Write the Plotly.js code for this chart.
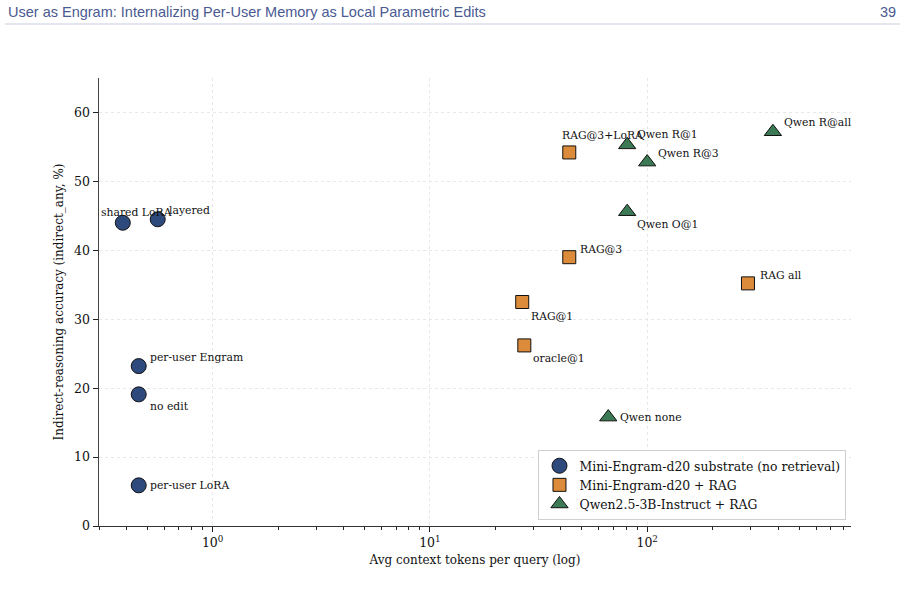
<!DOCTYPE html>
<html><head><meta charset="utf-8">
<script src="https://cdn.plot.ly/plotly-3.0.1.min.js"></script>
<style>body{margin:0;background:#fff}#c{width:906px;height:595px}</style>
</head><body><div id="c"></div>
<script>
// Data
const engramNames = ["shared LoRA","layered","per-user Engram","no edit","per-user LoRA"];
const engramX = [0.386, 0.559, 0.457, 0.457, 0.457];
const engramY = [44.0, 44.5, 23.2, 19.1, 5.9];

const ragNames = ["RAG@3+LoRA","RAG@3","RAG@1","oracle@1","RAG all"];
const ragX = [43.8, 43.8, 26.6, 27.2, 291];
const ragY = [54.2, 39.0, 32.5, 26.2, 35.2];

const qwenNames = ["Qwen R@1","Qwen R@3","Qwen R@all","Qwen O@1","Qwen none"];
const qwenX = [80.9, 100, 379, 80.9, 66.2];
const qwenY = [55.3, 52.8, 57.2, 45.6, 15.8];

const seriesNames = ["Mini-Engram-d20 substrate (no retrieval)","Mini-Engram-d20 + RAG","Qwen2.5-3B-Instruct + RAG"];
const xTickVals = [1, 10, 100];
const xTickText = ["10<sup>0</sup>","10<sup>1</sup>","10<sup>2</sup>"];
const xMinorTicks = [0.3,0.4,0.5,0.6,0.7,0.8,0.9,2,3,4,5,6,7,8,9,20,30,40,50,60,70,80,90,200,300,400,500,600,700,800];
const yTickVals = [0,10,20,30,40,50,60];

// label offsets (pixels) - styling only
const engramOff = [[-24,10],[9,9],[9,9],[9,-12],[9,0]];
const ragOff = [[-9,17],[9,8],[7,-14],[7,-13],[10,8]];
const qwenOff = [[8,10],[9,9],[9,9],[8,-13],[10,0]];

const F = "DejaVu Serif, serif";
function tr(name, xs, ys, sym, col, size){
  return {type:'scatter', mode:'markers', name:name, x:xs, y:ys,
    marker:{symbol:sym, color:col, size:size, line:{color:'#111', width:1}}, hoverinfo:'skip'};
}
const traces = [
  tr(seriesNames[0], engramX, engramY, 'circle', '#2e4a7d', 15),
  tr(seriesNames[1], ragX, ragY, 'square', '#dc8b3a', 13),
  tr(seriesNames[2], qwenX, qwenY, 'triangle-up', '#3b7a55', 15)
];
const ann = [];
function addLabels(names, xs, ys, off){
  names.forEach((n,i)=>ann.push({x:Math.log10(xs[i]), y:ys[i], xref:'x', yref:'y', text:n, showarrow:false,
    xanchor:'left', yanchor:'middle', xshift:off[i][0], yshift:off[i][1], font:{family:F, size:10.8, color:'#111'}}));
}
addLabels(engramNames, engramX, engramY, engramOff);
addLabels(ragNames, ragX, ragY, ragOff);
addLabels(qwenNames, qwenX, qwenY, qwenOff);
ann.push({xref:'paper', yref:'paper', x:-0.124, y:1.147, xanchor:'left', yanchor:'middle', showarrow:false,
  text:"User as Engram: Internalizing Per-User Memory as Local Parametric Edits", font:{family:"Liberation Sans, Arial, sans-serif", size:14.5, color:'#4a5a92'}});
ann.push({xref:'paper', yref:'paper', x:1.063, y:1.147, xanchor:'right', yanchor:'middle', showarrow:false,
  text:"39", font:{family:"Liberation Sans, Arial, sans-serif", size:14.5, color:'#4a5a92'}});

const layout = {
  width:906, height:595, margin:{l:99, r:55, t:78, b:69},
  paper_bgcolor:'#fff', plot_bgcolor:'#fff', showlegend:true,
  font:{family:F, color:'#111'},
  xaxis:{type:'log', range:[Math.log10(0.30), Math.log10(867)], tickvals:xTickVals, ticktext:xTickText,
    ticks:'outside', ticklen:5, tickcolor:'#222', showline:true, linecolor:'#333', linewidth:1.2,
    showgrid:true, gridcolor:'#e8e8e8', griddash:'dot', zeroline:false, tickfont:{family:F, size:12.5},
    minor:{tickmode:'array', tickvals:xMinorTicks, ticks:'outside', ticklen:3, tickcolor:'#222', showgrid:false},
    title:{text:"Avg context tokens per query (log)", font:{family:F, size:12}, standoff:6}},
  yaxis:{range:[0,65], tickvals:yTickVals, ticks:'outside', ticklen:5, tickcolor:'#222',
    showline:true, linecolor:'#444', linewidth:1.5, showgrid:true, gridcolor:'#e8e8e8', griddash:'dot',
    zeroline:false, tickfont:{family:F, size:12.5},
    title:{text:"Indirect-reasoning accuracy (indirect_any, %)", font:{family:F, size:12}, standoff:8}},
  legend:{x:0.994, y:0.013, xanchor:'right', yanchor:'bottom', bgcolor:'#fff', bordercolor:'#cfcfcf', borderwidth:1,
    font:{family:F, size:12.4}, tracegroupgap:0},
  annotations:ann,
  shapes:[{type:'line', xref:'paper', yref:'paper', x0:-0.125, x1:1.065, y0:1.1205, y1:1.1205, line:{color:'#c9cde0', width:1.2}}]
};
Plotly.newPlot('c', traces, layout, {displayModeBar:false, staticPlot:true});
</script></body></html>
